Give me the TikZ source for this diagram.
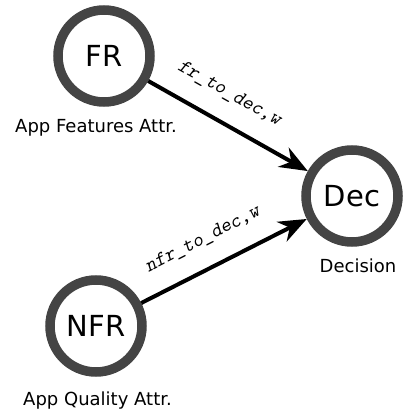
\documentclass[tikz,border=0pt]{standalone}
\usepackage{fontspec}
\setmainfont{DejaVu Sans}
\usetikzlibrary{arrows.meta}
\definecolor{ringgray}{HTML}{444444}
\begin{document}
\begin{tikzpicture}[x=1pt,y=-1pt,
  state/.style={circle, draw=ringgray, line width=9.5pt, minimum size=92pt,
    inner sep=0pt, text=black, font=\fontsize{29}{34}\selectfont},
  caption/.style={inner sep=0pt, anchor=base, font=\fontsize{18}{21}\selectfont},
  link/.style={line width=4pt, -{Stealth[length=28pt,width=22pt,inset=9pt]}},
  weight/.style={sloped, above=19pt, inner sep=0pt,
    font=\fontsize{20}{24}\ttfamily\slshape}
]
\useasboundingbox (0,0) rectangle (406,409);

% states
\node[state] (fr)  at (104,56)  {FR};
\node[state] (dec) at (352,196) {Dec};
\node[state] (nfr) at (96,326)  {NFR};

% captions under the states
\node[caption] (frcap)  at (96,132)  {App Features Attr.};
\node[caption] (deccap) at (358,272) {Decision};
\node[caption] (nfrcap) at (97.5,405) {App Quality Attr.};

% weighted links into the decision
\draw[link] (fr)  -- node[weight, pos=0.42] (wfr)  {fr\_to\_dec,w}  (dec);
\draw[link] (nfr) -- node[weight, pos=0.45] (wnfr) {nfr\_to\_dec,w} (dec);
\end{tikzpicture}
\end{document}
